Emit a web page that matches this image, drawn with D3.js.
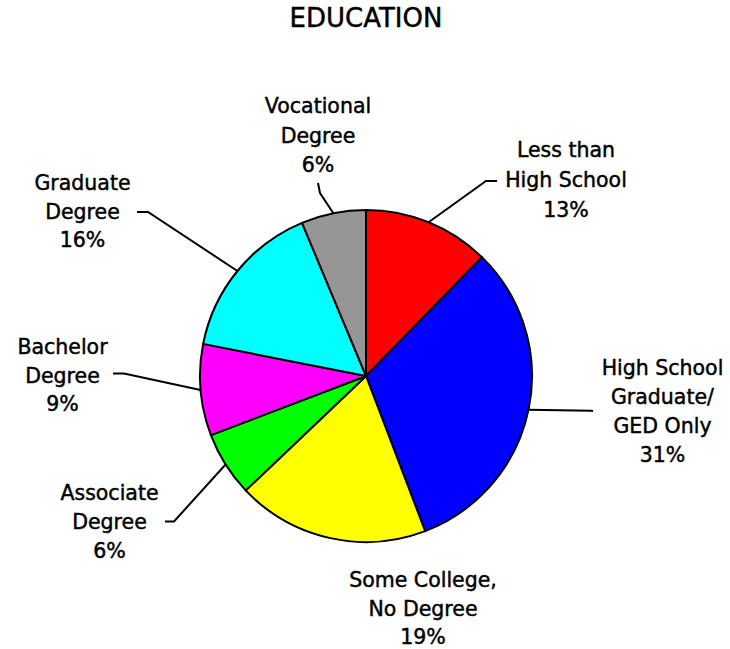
<!DOCTYPE html>
<html>
<head>
<meta charset="utf-8">
<script src="https://cdn.jsdelivr.net/npm/d3@7/dist/d3.min.js"></script>
<style>
  html, body { margin: 0; padding: 0; background: #fff; }
  svg { display: block; }
  text { font-family: "DejaVu Sans", Verdana, sans-serif; fill: #000; stroke: #000; stroke-width: 0.45px; }
</style>
</head>
<body>
<svg id="chart" width="730" height="649"></svg>
<script>
// ---- data ----
const title = "EDUCATION";
const categories = [
  ["Less than", "High School"],
  ["High School", "Graduate/", "GED Only"],
  ["Some College,", "No Degree"],
  ["Associate", "Degree"],
  ["Bachelor", "Degree"],
  ["Graduate", "Degree"],
  ["Vocational", "Degree"]
];
const values = [12.3, 31.9, 18.7, 6.3, 8.9, 15.6, 6.3];
const percentLabels = ["13%", "31%", "19%", "6%", "9%", "16%", "6%"];
const colors = ["#FF0000", "#0000FF", "#FFFF00", "#00FF00", "#FF00FF", "#00FFFF", "#969696"];

// ---- layout (label placement) ----
const cx = 366, cy = 376, R = 166;
const labelLayout = [
  { x: 566,   y: 157, lh: 30,   elbow: [486, 181],   end: [497, 181] },
  { x: 662.5, y: 375, lh: 29,   elbow: [591, 410.8], end: [593, 411] },
  { x: 423,   y: 587, lh: 28.5, elbow: null,          end: null },
  { x: 109.5, y: 500, lh: 29,   elbow: [174, 521.5], end: [165, 521.5] },
  { x: 62.5,  y: 354, lh: 28.5, elbow: [124, 373.5], end: [113, 373.5] },
  { x: 82.5,  y: 190, lh: 28.5, elbow: [148, 212],   end: [137, 212] },
  { x: 318,   y: 113, lh: 29.5, elbow: [320, 193],   end: [318, 183] }
];

const svg = d3.select("#chart");

svg.append("text")
  .attr("x", 366).attr("y", 27)
  .attr("text-anchor", "middle")
  .style("font-size", "26px")
  .text(title);

const pie = d3.pie().sort(null).value(d => d);
const arcs = pie(values);
const arc = d3.arc().innerRadius(0).outerRadius(R);

const g = svg.append("g").attr("transform", `translate(${cx},${cy})`);

g.selectAll("path.slice")
  .data(arcs)
  .join("path")
  .attr("class", "slice")
  .attr("d", arc)
  .attr("fill", (d, i) => colors[i])
  .attr("stroke", "#000")
  .attr("stroke-width", 2)
  .attr("stroke-linejoin", "round");

// leader lines
arcs.forEach((a, i) => {
  const L = labelLayout[i];
  if (!L.elbow) return;
  const mid = (a.startAngle + a.endAngle) / 2;
  const px = cx + R * Math.sin(mid);
  const py = cy - R * Math.cos(mid);
  svg.append("polyline")
    .attr("points", [[px, py], L.elbow, L.end].map(p => p.join(",")).join(" "))
    .attr("fill", "none")
    .attr("stroke", "#000")
    .attr("stroke-width", 2);
});

// labels
arcs.forEach((a, i) => {
  const L = labelLayout[i];
  const lines = categories[i].concat([percentLabels[i]]);
  const t = svg.append("text")
    .attr("text-anchor", "middle")
    .style("font-size", "20.5px");
  lines.forEach((ln, k) => {
    t.append("tspan").attr("x", L.x).attr("y", L.y + k * L.lh).text(ln);
  });
});
</script>
</body>
</html>
